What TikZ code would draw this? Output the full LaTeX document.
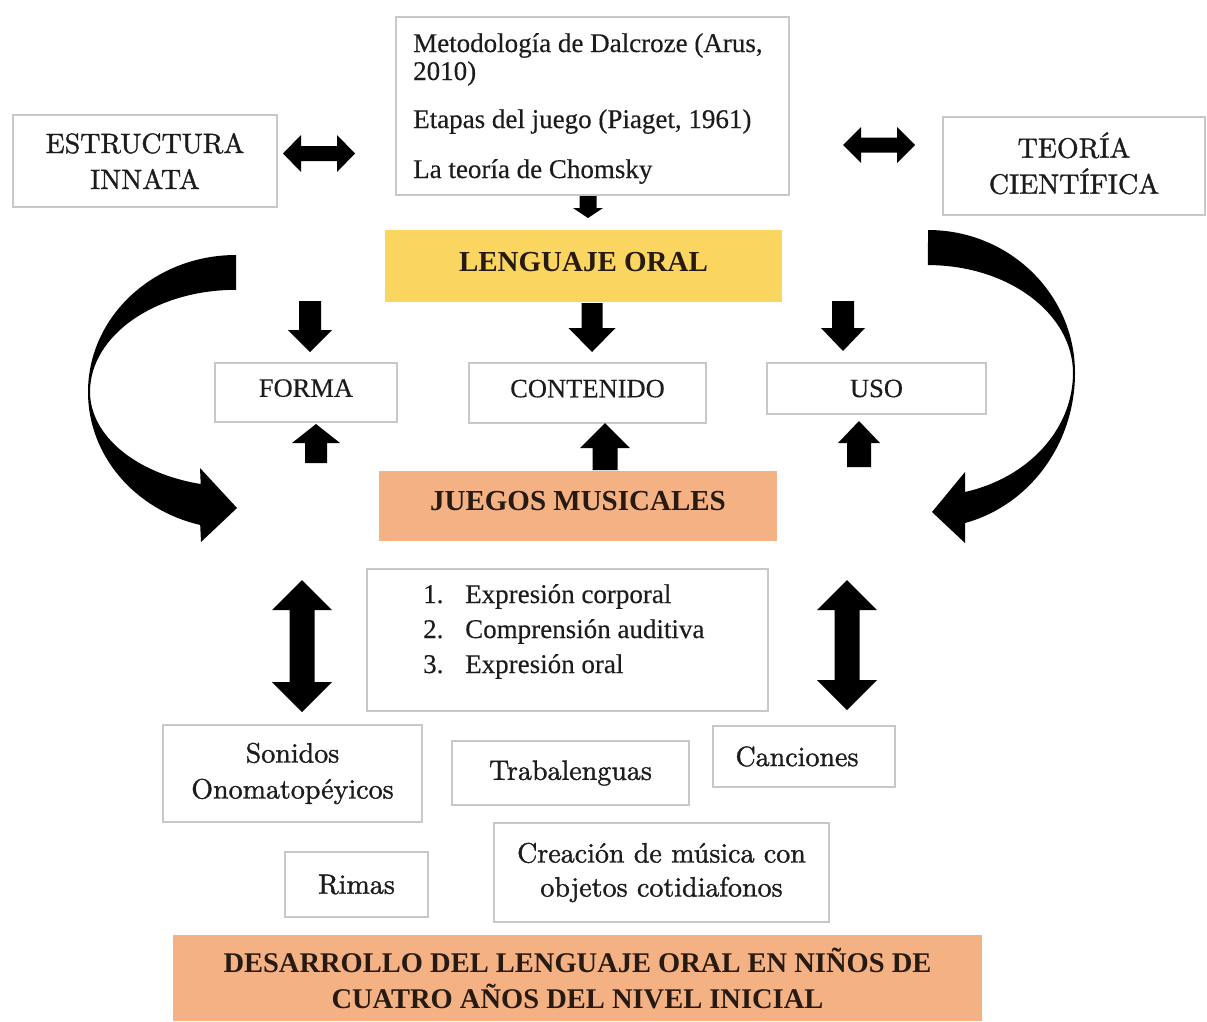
\documentclass[tikz,border=0pt]{standalone}
\usepackage{fontspec}
\newfontfamily\tnr{Liberation Serif}
\newfontfamily\tnrfb{Liberation Serif}[FakeBold=0.3]
\newfontfamily\lmfb{lmroman10-regular.otf}[FakeBold=1.2]
\usetikzlibrary{calc}
\definecolor{boxgray}{RGB}{200,200,200}
\definecolor{txt}{RGB}{30,27,28}
\definecolor{headtxt}{RGB}{38,26,18}
\definecolor{gold}{RGB}{250,213,96}
\definecolor{salmon}{RGB}{244,177,131}
% block arrows
\newcommand\arrD[5]{\fill ($(#1)+(-#3,0)$) -- ($(#1)+(#3,0)$) -- ($(#2)+(#3,-#5)$) -- ($(#2)+(#4,-#5)$) -- (#2) -- ($(#2)+(-#4,-#5)$) -- ($(#2)+(-#3,-#5)$) -- cycle;}
\newcommand\arrU[5]{\fill ($(#1)+(-#3,0)$) -- ($(#1)+(#3,0)$) -- ($(#2)+(#3,#5)$) -- ($(#2)+(#4,#5)$) -- (#2) -- ($(#2)+(-#4,#5)$) -- ($(#2)+(-#3,#5)$) -- cycle;}
\newcommand\arrUD[5]{\fill (#1) -- ($(#1)+(#4,#5)$) -- ($(#1)+(#3,#5)$) -- ($(#2)+(#3,-#5)$) -- ($(#2)+(#4,-#5)$) -- (#2) -- ($(#2)+(-#4,-#5)$) -- ($(#2)+(-#3,-#5)$) -- ($(#1)+(-#3,#5)$) -- ($(#1)+(-#4,#5)$) -- cycle;}
\newcommand\arrLR[5]{\fill (#1) -- ($(#1)+(#5,-#4)$) -- ($(#1)+(#5,-#3)$) -- ($(#2)+(-#5,-#3)$) -- ($(#2)+(-#5,-#4)$) -- (#2) -- ($(#2)+(-#5,#4)$) -- ($(#2)+(-#5,#3)$) -- ($(#1)+(#5,#3)$) -- ($(#1)+(#5,#4)$) -- cycle;}
\tikzset{
  box/.style={draw=boxgray, line width=1.6pt, fill=white, inner sep=0pt, text=txt, align=center},
  lmtext/.style={font=\lmfb\fontsize{28}{36}\selectfont},
  tnrtext/.style={font=\tnrfb\fontsize{26.5}{30}\selectfont},
  headbox/.style={inner sep=0pt, text=headtxt, align=center, font=\tnr\bfseries\fontsize{29}{36}\selectfont},
  txtline/.style={anchor=base west, inner sep=0pt, text=txt, font=\tnrfb\fontsize{27}{30}\selectfont},
}
\begin{document}
\begin{tikzpicture}[x=1pt,y=-1pt]
\useasboundingbox (0,0) rectangle (1207,1021);
\fill[white] (0,0) rectangle (1207,1021);

% top row
\node[box, lmtext, minimum width=264pt, minimum height=92pt] (estr) at (145,161) {ESTRUCTURA\\INNATA};
\node[box, minimum width=393pt, minimum height=178pt] (fuentes) at (592.5,106) {};
\node[txtline] (f1) at (413,52) {Metodología de Dalcroze (Arus,};
\node[txtline] (f2) at (413,80) {2010)};
\node[txtline] (f3) at (413,128) {Etapas del juego (Piaget, 1961)};
\node[txtline] (f4) at (413,178) {La teoría de Chomsky};
\node[box, lmtext, minimum width=262pt, minimum height=98pt, text depth=6pt] (teoria) at (1074,166) {TEORÍA\\CIENTÍFICA};

% lenguaje oral
\node[headbox, fill=gold, minimum width=397pt, minimum height=72pt, text depth=9pt] (lengua) at (583.5,266) {LENGUAJE ORAL};

% forma contenido uso
\node[box, tnrtext, minimum width=182pt, minimum height=59pt, text depth=9pt] (forma) at (306,392.5) {FORMA};
\node[box, tnrtext, minimum width=237pt, minimum height=60pt, text depth=9pt] (contenido) at (587.5,393) {CONTENIDO};
\node[box, tnrtext, minimum width=219pt, minimum height=51pt] (uso) at (876.5,388.5) {USO};

% juegos musicales
\node[headbox, fill=salmon, minimum width=398pt, minimum height=70pt, text depth=10pt] (juegos) at (578,506) {JUEGOS MUSICALES};

% list
\node[box, minimum width=401pt, minimum height=142pt] (lista) at (567.5,640) {};
\node[txtline] (n1) at (423,603) {1.};
\node[txtline] (l1) at (465,603) {Expresión corporal};
\node[txtline] (n2) at (423,638) {2.};
\node[txtline] (l2) at (465,638) {Comprensión auditiva};
\node[txtline] (n3) at (423,673) {3.};
\node[txtline] (l3) at (465,673) {Expresión oral};

% bottom boxes
\node[box, lmtext, minimum width=259pt, minimum height=97pt] (sonidos) at (292.5,773.5) {Sonidos\\Onomatopéyicos};
\node[box, lmtext, minimum width=237pt, minimum height=64pt] (trab) at (570.5,773) {Trabalenguas};
\node[box, lmtext, minimum width=182pt, minimum height=61pt] (canc) at (804,756.5) {Canciones\hspace*{14pt}};
\node[box, lmtext, minimum width=143pt, minimum height=65pt] (rimas) at (356.5,884.5) {Rimas};
\node[box, minimum width=335pt, minimum height=99pt, font=\lmfb\fontsize{28}{34}\selectfont] (crea) at (661.5,872.5) {Creación de música con\\objetos cotidiafonos};

\node[headbox, fill=salmon, minimum width=809pt, minimum height=86pt, font=\tnr\bfseries\fontsize{28.5}{36}\selectfont] (desa) at (577.5,978) {DESARROLLO DEL LENGUAJE ORAL EN NIÑOS DE\\CUATRO AÑOS DEL NIVEL INICIAL};

% block arrows
\coordinate (h1a) at (283,153.5); \coordinate (h1b) at (355,153.5);
\arrLR{h1a}{h1b}{7.5}{18.5}{18}
\coordinate (h2a) at (843,145); \coordinate (h2b) at (915,145);
\arrLR{h2a}{h2b}{7.5}{18}{18}
\coordinate (d0a) at (588,196); \coordinate (d0b) at (588,218);
\arrD{d0a}{d0b}{8.5}{15}{10}
\coordinate (d1a) at (310,301); \coordinate (d1b) at (310,352);
\arrD{d1a}{d1b}{11}{22}{22}
\coordinate (d2a) at (592,303); \coordinate (d2b) at (592,352);
\arrD{d2a}{d2b}{10.5}{23.5}{24}
\coordinate (d3a) at (843,301); \coordinate (d3b) at (843,351);
\arrD{d3a}{d3b}{11}{22}{23}
\coordinate (u1a) at (316,463); \coordinate (u1b) at (316,424);
\arrU{u1a}{u1b}{11}{24}{19}
\coordinate (u2a) at (605,470); \coordinate (u2b) at (605,423);
\arrU{u2a}{u2b}{12.5}{25}{25}
\coordinate (u3a) at (859,467); \coordinate (u3b) at (859,421);
\arrU{u3a}{u3b}{12}{21}{22}
\coordinate (v1a) at (302,580); \coordinate (v1b) at (302,712);
\arrUD{v1a}{v1b}{12.5}{30}{30}
\coordinate (v2a) at (847,580); \coordinate (v2b) at (847,710);
\arrUD{v2a}{v2b}{12.5}{30}{30}

% curved arrows
\fill (236,255) arc[start angle=90,end angle=180,x radius=148pt,y radius=137pt]
  arc[start angle=180,end angle=256,x radius=148pt,y radius=137pt]
  -- (201,542) -- (237,508) -- (200,468) -- (200.7,484)
  arc[start angle=256,end angle=180,x radius=146pt,y radius=95pt]
  arc[start angle=180,end angle=90,x radius=146pt,y radius=102pt] -- cycle;
\fill (928,230) arc[start angle=90,end angle=0,x radius=147pt,y radius=143pt]
  arc[start angle=0,end angle=-75.4,x radius=147pt,y radius=155pt]
  -- (965,543) -- (932,512) -- (965,472) -- (965,492)
  arc[start angle=-75.2,end angle=0,x radius=145pt,y radius=123pt]
  arc[start angle=0,end angle=90,x radius=145pt,y radius=108pt] -- cycle;
\end{tikzpicture}
\end{document}
